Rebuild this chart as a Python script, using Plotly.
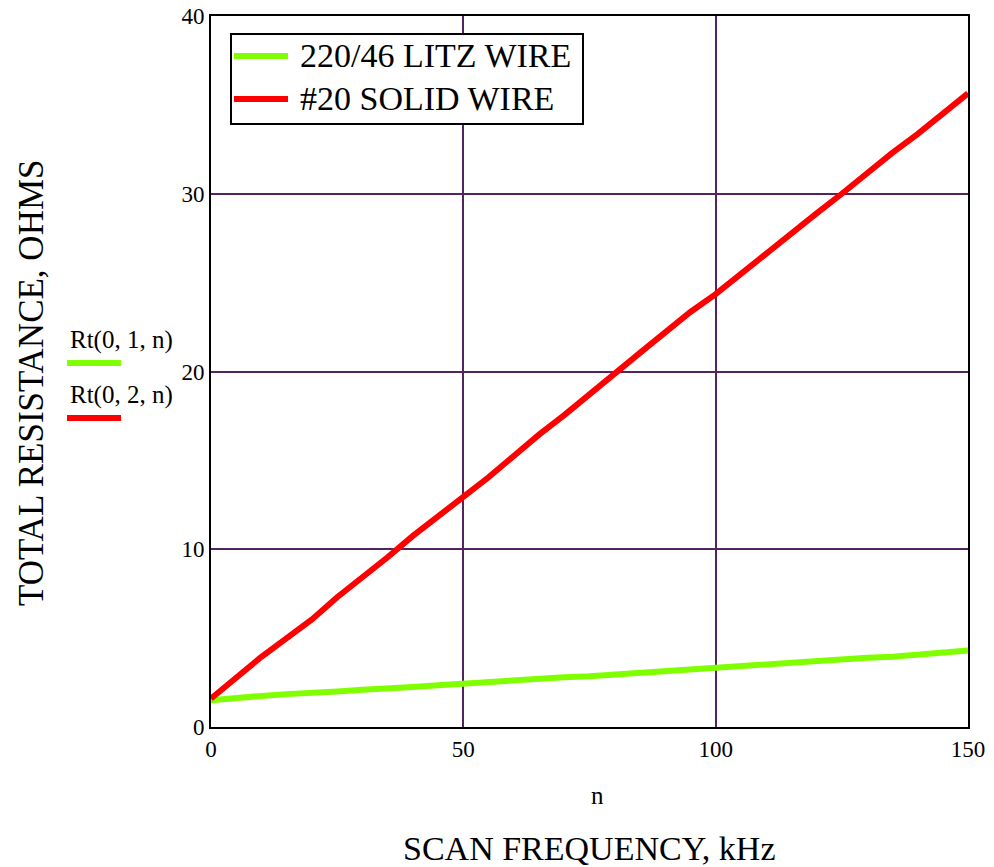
import plotly.graph_objects as go

n_vals = list(range(0, 151, 5))
litz = [1.5, 1.65, 1.75, 1.85, 1.9, 2.0, 2.1, 2.15, 2.25, 2.35, 2.45, 2.5, 2.6, 2.7, 2.8, 2.85,
        2.95, 3.05, 3.15, 3.2, 3.35, 3.45, 3.55, 3.6, 3.7, 3.8, 3.9, 3.95, 4.05, 4.2, 4.3]
solid = [1.6, 2.8, 3.95, 5.0, 6.05, 7.3, 8.4, 9.55, 10.75, 11.8, 12.95, 14.05, 15.3, 16.45, 17.55,
         18.75, 19.95, 21.05, 22.2, 23.35, 24.35, 25.5, 26.7, 27.75, 28.9, 30.0, 31.2, 32.3, 33.35,
         34.5, 35.65]
series_names = ["220/46 LITZ WIRE", "#20 SOLID WIRE"]
side_labels = ["Rt(0, 1, n)", "Rt(0, 2, n)"]
colors = ["#80ff00", "#ff0000"]
x_ticks = [0, 50, 100, 150]
y_ticks = [0, 10, 20, 30, 40]

FONT = "Liberation Serif"
W, H = 994, 867
L, R, T, B = 211, 26, 16, 140
PW, PH = W - L - R, H - T - B

def px(x):
    return (x - L) / PW

def py(y):
    return (H - B - y) / PH

fig = go.Figure()
fig.add_trace(go.Scatter(x=n_vals, y=litz, mode="lines", name=series_names[0],
                         line=dict(color=colors[0], width=6), showlegend=False))
fig.add_trace(go.Scatter(x=n_vals, y=solid, mode="lines", name=series_names[1],
                         line=dict(color=colors[1], width=6), showlegend=False))

grid = "#55235f"
fig.update_xaxes(range=[0, 150], tickvals=x_ticks, showgrid=True, gridcolor=grid, gridwidth=2,
                 showline=True, linecolor="black", linewidth=2, mirror=True, zeroline=False,
                 ticks="", automargin=False, tickfont=dict(family=FONT, size=23, color="black"))
fig.update_yaxes(range=[0, 40], tickvals=y_ticks, showgrid=True, gridcolor=grid, gridwidth=2,
                 showline=True, linecolor="black", linewidth=2, mirror=True, zeroline=False,
                 ticks="", automargin=False, tickfont=dict(family=FONT, size=23, color="black"))

annotations = [
    dict(text="n", x=px(597), y=py(795), xref="paper", yref="paper", showarrow=False,
         xanchor="center", yanchor="middle", font=dict(family=FONT, size=25, color="black")),
    dict(text="SCAN FREQUENCY, kHz", x=px(589), y=py(848), xref="paper", yref="paper",
         showarrow=False, xanchor="center", yanchor="middle",
         font=dict(family=FONT, size=34, color="black")),
    dict(text="TOTAL RESISTANCE, OHMS", x=px(31), y=py(383), xref="paper", yref="paper",
         showarrow=False, textangle=-90, xanchor="center", yanchor="middle",
         font=dict(family=FONT, size=35, color="black")),
]
shapes = []
# side labels (Mathcad-style trace labels)
for i, (lab, c) in enumerate(zip(side_labels, colors)):
    ty = 340 + 55 * i
    ly = 363 + 55 * i
    annotations.append(dict(text=lab, x=px(68), y=py(ty), xref="paper", yref="paper",
                            xanchor="left", yanchor="middle", showarrow=False,
                            font=dict(family=FONT, size=25, color="black")))
    shapes.append(dict(type="line", xref="paper", yref="paper", x0=px(67), x1=px(121),
                       y0=py(ly), y1=py(ly), line=dict(color=c, width=6)))

# legend box inside plot
shapes.append(dict(type="rect", xref="paper", yref="paper", x0=px(231), x1=px(583),
                   y0=py(34), y1=py(124), line=dict(color="black", width=2),
                   fillcolor="white", layer="above"))
for i, (name, c) in enumerate(zip(series_names, colors)):
    ly = 56 + 43 * i
    shapes.append(dict(type="line", xref="paper", yref="paper", x0=px(234), x1=px(288),
                       y0=py(ly), y1=py(ly), line=dict(color=c, width=6), layer="above"))
    annotations.append(dict(text=name, x=px(298), y=py(ly - 1), xref="paper", yref="paper",
                            xanchor="left", yanchor="middle", showarrow=False,
                            font=dict(family=FONT, size=34, color="black")))

fig.update_layout(
    width=W, height=H, margin=dict(l=L, r=R, t=T, b=B, autoexpand=False),
    font=dict(family=FONT, color="black"),
    paper_bgcolor="white", plot_bgcolor="white",
    annotations=annotations, shapes=shapes, showlegend=False,
)
fig.write_html("out.html")
